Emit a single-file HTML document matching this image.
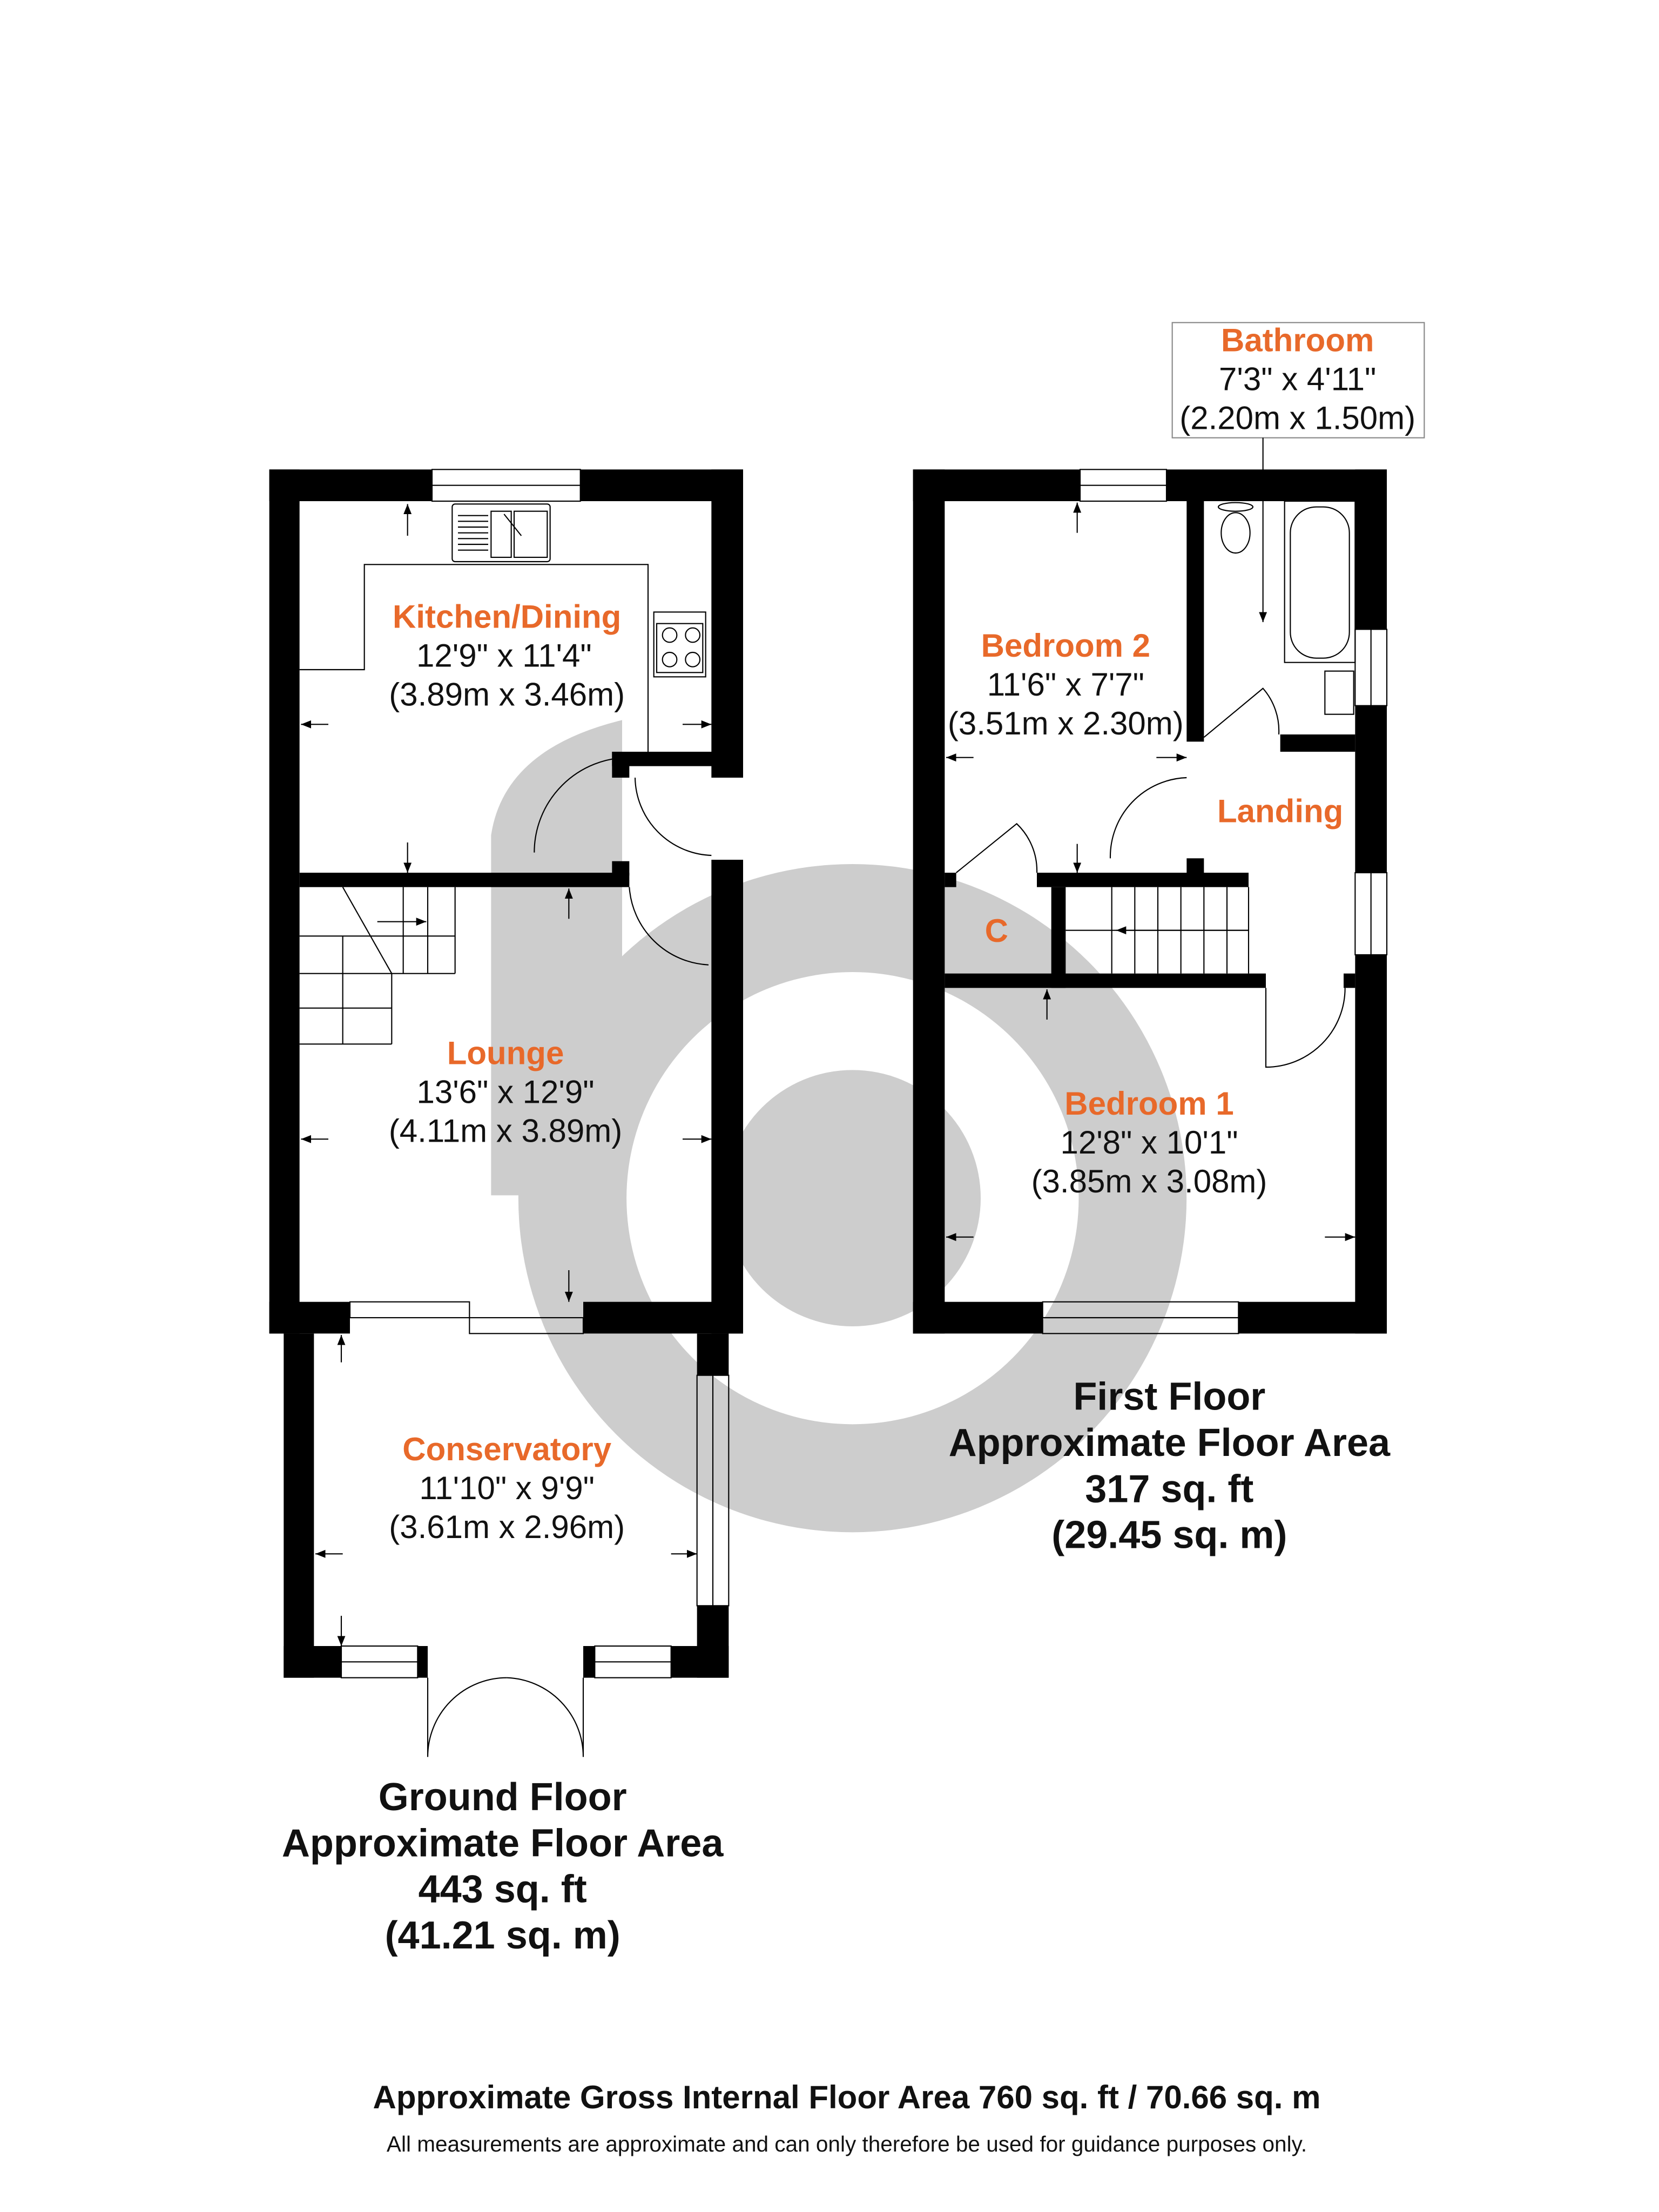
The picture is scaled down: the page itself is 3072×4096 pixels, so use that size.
<!DOCTYPE html>
<html><head><meta charset="utf-8"><style>
html,body{margin:0;padding:0;background:#fff}
svg{display:block}
text{font-family:"Liberation Sans",sans-serif}
.o{fill:#e8692a;font-weight:bold;font-size:22.5px}
.d{fill:#111;font-size:22.5px}
.b{fill:#111;font-weight:bold;font-size:27px}
</style></head><body>
<svg width="3072" height="4096" viewBox="0 0 1152 1536" xmlns="http://www.w3.org/2000/svg">
<defs><marker id="ah" viewBox="0 0 10 10" refX="10" refY="5" markerWidth="7" markerHeight="7" markerUnits="userSpaceOnUse" orient="auto"><path d="M0,1 L10,5 L0,9 Z" fill="#000"/></marker></defs>
<rect width="1152" height="1536" fill="#fff"/>
<!-- watermark -->
<g fill="#cdcdcd">
<path d="M592,600 a232,232 0 1 1 -0.1,0 Z M592,675 a157,157 0 1 0 0.1,0 Z" fill-rule="evenodd"/>
<circle cx="592" cy="832" r="89"/>
<path d="M341,830 L341,580 Q350,520 432,500 L432,830 Z"/>
</g>
<g fill="#000">
<!-- ground floor -->
<rect x="187" y="326" width="113" height="22"/>
<rect x="403" y="326" width="113" height="22"/>
<rect x="187" y="326" width="21" height="600"/>
<rect x="494" y="326" width="22" height="214"/>
<rect x="425" y="522" width="91" height="10"/>
<rect x="425" y="522" width="12" height="18"/>
<rect x="208" y="606" width="229" height="10"/>
<rect x="425" y="598" width="12" height="10"/>
<rect x="494" y="597" width="22" height="329"/>
<rect x="187" y="904" width="56" height="22"/>
<rect x="405" y="904" width="111" height="22"/>
<!-- conservatory -->
<rect x="197" y="926" width="21" height="239"/>
<rect x="484" y="926" width="22" height="29"/>
<rect x="484" y="1115" width="22" height="50"/>
<rect x="197" y="1143" width="40" height="22"/>
<rect x="290" y="1143" width="7" height="22"/>
<rect x="405" y="1143" width="8" height="22"/>
<rect x="466" y="1143" width="40" height="22"/>
<!-- first floor -->
<rect x="634" y="326" width="116" height="22"/>
<rect x="810" y="326" width="153" height="22"/>
<rect x="634" y="326" width="22" height="600"/>
<rect x="941" y="326" width="22" height="111"/>
<rect x="941" y="490" width="22" height="116"/>
<rect x="941" y="663" width="22" height="263"/>
<rect x="634" y="904" width="90" height="22"/>
<rect x="860" y="904" width="103" height="22"/>
<rect x="824" y="348" width="12" height="167"/>
<rect x="889" y="510" width="52" height="12"/>
<rect x="656" y="606" width="8" height="10"/>
<rect x="720" y="606" width="147" height="10"/>
<rect x="824" y="596" width="12" height="12"/>
<rect x="730" y="616" width="10" height="70"/>
<rect x="656" y="676" width="223" height="10"/>
<rect x="933" y="676" width="8" height="10"/>
</g>
<g fill="none" stroke="#000" stroke-width="0.8">
<!-- windows -->
<rect x="300" y="326" width="103" height="22"/><line x1="300" y1="337" x2="403" y2="337"/>
<rect x="243" y="904" width="83" height="11"/><rect x="326" y="915" width="79" height="11"/>
<rect x="484" y="955" width="22" height="160"/><line x1="495" y1="955" x2="495" y2="1115"/>
<rect x="237" y="1143" width="53" height="22"/><line x1="237" y1="1154" x2="290" y2="1154"/>
<rect x="413" y="1143" width="53" height="22"/><line x1="413" y1="1154" x2="466" y2="1154"/>
<rect x="750" y="326" width="60" height="22"/><line x1="750" y1="337" x2="810" y2="337"/>
<rect x="941" y="437" width="22" height="53"/><line x1="952" y1="437" x2="952" y2="490"/>
<rect x="941" y="606" width="22" height="57"/><line x1="952" y1="606" x2="952" y2="663"/>
<rect x="724" y="904" width="136" height="22"/><line x1="724" y1="915" x2="860" y2="915"/>
<!-- kitchen units -->
<polyline points="208,465 253,465 253,392 450,392 450,522"/>
<rect x="314" y="350" width="68" height="40" rx="2"/>
<rect x="341" y="355" width="14" height="32"/><rect x="357" y="355" width="23" height="32"/>
<path d="M318,358 H339 M318,362 H339 M318,366 H339 M318,370 H339 M318,374 H339 M318,378 H339 M318,382 H339"/>
<line x1="350" y1="357" x2="362" y2="372"/>
<rect x="454" y="425" width="36" height="45"/><rect x="456" y="433" width="32" height="34"/>
<circle cx="465" cy="441" r="5"/><circle cx="481" cy="441" r="5"/><circle cx="465" cy="458" r="5"/><circle cx="481" cy="458" r="5"/>
<!-- doors -->
<path d="M371,592 A66,66 0 0 1 437,526"/>
<path d="M441,540 A55,55 0 0 0 494,594"/>
<path d="M437,616 A58,58 0 0 0 492,670"/>
<path d="M297,1165 L297,1220 A55,55 0 0 1 352,1165"/>
<path d="M405,1165 L405,1220 A55,55 0 0 0 352,1165"/>
<!-- ground stairs -->
<polyline points="208,676 272,676 272,725"/>
<line x1="272" y1="676" x2="316" y2="676"/><line x1="316" y1="616" x2="316" y2="676"/>
<line x1="208" y1="650" x2="316" y2="650"/><line x1="238" y1="616" x2="272" y2="676"/>
<line x1="208" y1="700" x2="272" y2="700"/><line x1="208" y1="725" x2="272" y2="725"/>
<line x1="238" y1="650" x2="238" y2="725"/>
<line x1="297" y1="616" x2="297" y2="676"/><line x1="280" y1="616" x2="280" y2="676"/>
<!-- bathroom -->
<rect x="892" y="348" width="49" height="112"/>
<rect x="896" y="352" width="41" height="105" rx="18"/>
<ellipse cx="858" cy="370" rx="10" ry="14"/>
<ellipse cx="858" cy="352" rx="12" ry="3"/>
<rect x="920" y="466" width="20" height="30"/>
<!-- first floor doors -->
<path d="M836,512 L877,478 A45,45 0 0 1 888,510"/>
<path d="M664,606 L706,572 A45,45 0 0 1 720,606"/>
<path d="M771,596 A55,55 0 0 1 824,540"/>
<path d="M879,686 L879,741 A55,55 0 0 0 934,686"/>
<!-- first stairs -->
<line x1="772" y1="616" x2="772" y2="676"/><line x1="788" y1="616" x2="788" y2="676"/>
<line x1="804" y1="616" x2="804" y2="676"/><line x1="820" y1="616" x2="820" y2="676"/>
<line x1="836" y1="616" x2="836" y2="676"/><line x1="852" y1="616" x2="852" y2="676"/>
<line x1="867" y1="616" x2="867" y2="676"/><line x1="740" y1="646" x2="867" y2="646"/>
<!-- bathroom label box -->
<rect x="814" y="224" width="175" height="80" stroke="#888"/>
<line x1="877" y1="304" x2="877" y2="432" marker-end="url(#ah)"/>
</g>
<!-- arrows -->
<g stroke="#000" stroke-width="0.8" fill="none" marker-end="url(#ah)">
<line x2="283" y2="350" x1="283" y1="372"/><line x2="209" y2="503" x1="228" y1="503"/><line x1="474" y1="503" x2="494" y2="503"/>
<line x1="283" y1="585" x2="283" y2="606"/><line x2="395" y2="617" x1="395" y1="638"/>
<line x2="209" y2="791" x1="228" y1="791"/><line x1="474" y1="791" x2="494" y2="791"/><line x1="395" y1="882" x2="395" y2="904"/>
<line x2="237" y2="927" x1="237" y1="946"/><line x2="219" y2="1079" x1="238" y1="1079"/><line x1="466" y1="1079" x2="484" y2="1079"/><line x1="237" y1="1122" x2="237" y2="1143"/>
<line x2="748" y2="349" x1="748" y1="370"/><line x2="657" y2="526" x1="676" y1="526"/><line x1="803" y1="526" x2="824" y2="526"/><line x1="748" y1="586" x2="748" y2="606"/>
<line x2="727" y2="687" x1="727" y1="708"/><line x2="657" y2="859" x1="676" y1="859"/><line x1="920" y1="859" x2="941" y2="859"/>
<line x1="867" y1="646" x2="775" y2="646"/>
<line x1="262" y1="640" x2="296" y2="640"/>
</g>
<!-- texts -->
<text class="o" x="901" y="244" text-anchor="middle">Bathroom</text>
<text class="d" x="901" y="271" text-anchor="middle">7'3" x 4'11"</text>
<text class="d" x="901" y="298" text-anchor="middle">(2.20m x 1.50m)</text>
<text class="o" x="352" y="436" text-anchor="middle">Kitchen/Dining</text>
<text class="d" x="350" y="463" text-anchor="middle">12'9" x 11'4"</text>
<text class="d" x="352" y="490" text-anchor="middle">(3.89m x 3.46m)</text>
<text class="o" x="351" y="739" text-anchor="middle">Lounge</text>
<text class="d" x="351" y="766" text-anchor="middle">13'6" x 12'9"</text>
<text class="d" x="351" y="793" text-anchor="middle">(4.11m x 3.89m)</text>
<text class="o" x="352" y="1014" text-anchor="middle">Conservatory</text>
<text class="d" x="352" y="1041" text-anchor="middle">11'10" x 9'9"</text>
<text class="d" x="352" y="1068" text-anchor="middle">(3.61m x 2.96m)</text>
<text class="o" x="740" y="456" text-anchor="middle">Bedroom 2</text>
<text class="d" x="740" y="483" text-anchor="middle">11'6" x 7'7"</text>
<text class="d" x="740" y="510" text-anchor="middle">(3.51m x 2.30m)</text>
<text class="o" x="889" y="571" text-anchor="middle">Landing</text>
<text class="o" x="692" y="654" text-anchor="middle">C</text>
<text class="o" x="798" y="774" text-anchor="middle">Bedroom 1</text>
<text class="d" x="798" y="801" text-anchor="middle">12'8" x 10'1"</text>
<text class="d" x="798" y="828" text-anchor="middle">(3.85m x 3.08m)</text>
<text class="b" x="812" y="979" text-anchor="middle">First Floor</text>
<text class="b" x="812" y="1011" text-anchor="middle">Approximate Floor Area</text>
<text class="b" x="812" y="1043" text-anchor="middle">317 sq. ft</text>
<text class="b" x="812" y="1075" text-anchor="middle">(29.45 sq. m)</text>
<text class="b" x="349" y="1257" text-anchor="middle">Ground Floor</text>
<text class="b" x="349" y="1289" text-anchor="middle">Approximate Floor Area</text>
<text class="b" x="349" y="1321" text-anchor="middle">443 sq. ft</text>
<text class="b" x="349" y="1353" text-anchor="middle">(41.21 sq. m)</text>
<text x="588" y="1464" text-anchor="middle" style="font-weight:bold;font-size:22.5px;fill:#111">Approximate Gross Internal Floor Area 760 sq. ft / 70.66 sq. m</text>
<text x="588" y="1494" text-anchor="middle" style="font-size:15.2px;fill:#111">All measurements are approximate and can only therefore be used for guidance purposes only.</text>
</svg>
</body></html>
